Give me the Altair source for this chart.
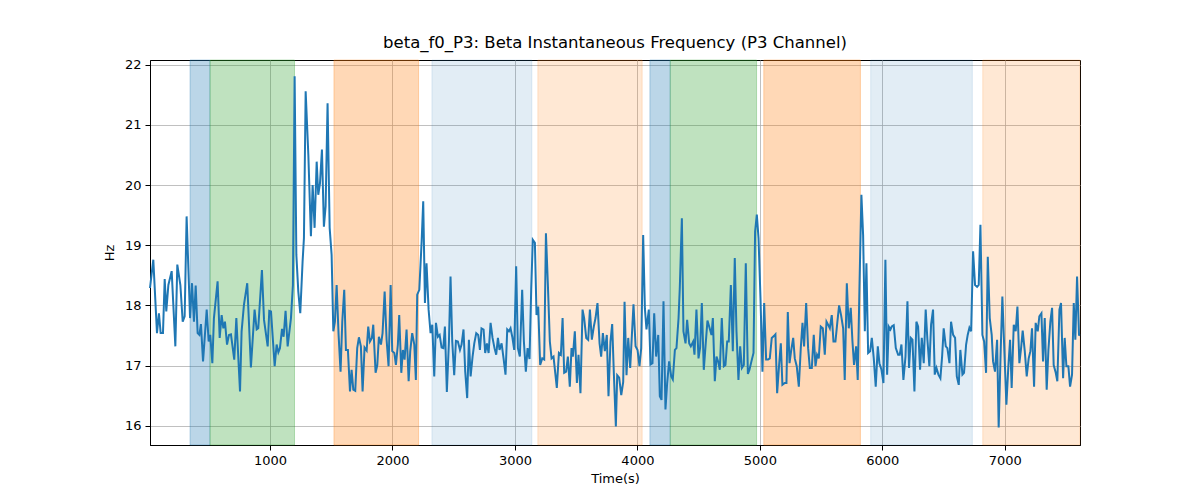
import pandas as pd
import altair as alt

# Beta instantaneous frequency trace
time_s = [
    20, 47, 77, 93, 107, 126, 140, 153, 170, 197,
    227, 243, 268, 287, 303, 319, 347, 363, 379, 393,
    409, 423, 436, 453, 483, 499, 512, 529, 542, 572,
    589, 605, 619, 632, 649, 665, 681, 708, 725, 755,
    768, 787, 814, 844, 874, 891, 904, 934, 951, 981,
    994, 1008, 1038, 1054, 1068, 1081, 1098, 1111, 1127, 1144,
    1171, 1187, 1201, 1215, 1231, 1247,
    1266, 1277, 1291, 1313, 1334, 1348, 1364, 1381, 1394, 1408,
    1424, 1440, 1454, 1470, 1487, 1503, 1517, 1530, 1544, 1560,
    1576, 1590, 1606, 1620, 1636, 1653, 1666, 1680, 1696, 1712,
    1726, 1742, 1756, 1772, 1789, 1802, 1816, 1832, 1843, 1862,
    1876, 1889, 1906, 1919, 1936, 1952, 1968, 1985, 1998, 2015,
    2028, 2044, 2055, 2072, 2085, 2099, 2115, 2132, 2145, 2161,
    2178, 2191, 2202, 2219, 2238, 2251, 2265, 2278, 2295, 2311,
    2325, 2341, 2355, 2371, 2385, 2401, 2415, 2428, 2444, 2461,
    2474, 2488, 2504, 2518, 2534, 2551, 2564,
    2580, 2594, 2610, 2624, 2638, 2654, 2668, 2684, 2700, 2714,
    2727, 2744, 2757, 2771, 2785, 2801, 2817, 2833, 2847, 2861,
    2874, 2891, 2907, 2923, 2937, 2951, 2964, 2978, 2994, 3010,
    3024, 3040, 3059, 3073, 3089, 3103, 3119, 3133, 3146, 3163,
    3176, 3190, 3206, 3223, 3239, 3253, 3269, 3285, 3299, 3315,
    3329, 3342, 3359, 3375, 3389, 3402, 3418, 3432, 3448, 3462,
    3473, 3489, 3506, 3519, 3535, 3552, 3565, 3582, 3598, 3612,
    3628, 3644, 3658, 3674, 3691, 3704, 3718, 3734, 3750, 3764,
    3780, 3794, 3808, 3824,
    3835, 3851, 3868, 3884, 3895, 3911, 3925, 3941, 3955, 3968,
    3985, 4001, 4017, 4031, 4047, 4061, 4074, 4093, 4107, 4123,
    4137, 4153, 4170, 4183, 4197, 4213, 4229, 4243, 4259, 4276,
    4289, 4306, 4319, 4336, 4346, 4363, 4376, 4393, 4406, 4423,
    4436, 4455, 4466, 4482, 4499, 4512, 4526, 4542, 4556, 4572,
    4586, 4605, 4616, 4632, 4646, 4659, 4673, 4689, 4706, 4719,
    4733, 4746, 4763, 4779, 4795, 4809, 4825, 4839, 4853, 4869,
    4885, 4902, 4915, 4931, 4948, 4961, 4975, 4989, 5005, 5021,
    5035, 5051, 5067, 5081, 5097, 5114, 5127, 5141,
    5157, 5171, 5184, 5203, 5217, 5228, 5242, 5255, 5272, 5285,
    5301, 5318, 5334, 5348, 5361, 5378, 5394, 5408, 5424, 5440,
    5454, 5467, 5481, 5497, 5514, 5530, 5544, 5557, 5571, 5587,
    5601, 5617, 5633, 5647, 5663, 5680, 5693, 5710, 5726, 5742,
    5756, 5769, 5786, 5799, 5813, 5829, 5843, 5857, 5870, 5884,
    5900, 5914, 5930, 5946, 5963, 5976, 5993, 6009, 6025, 6039,
    6052, 6066, 6077, 6093, 6110, 6129, 6142, 6156, 6172, 6189,
    6205, 6218, 6232, 6246, 6262, 6278, 6292, 6308, 6322, 6338,
    6354, 6368, 6384, 6398, 6414,
    6428, 6442, 6458, 6474, 6488, 6501, 6518, 6531, 6548, 6561,
    6578, 6594, 6608, 6624, 6637, 6654, 6667, 6684, 6697, 6711,
    6725, 6741, 6757, 6774, 6787, 6801, 6817, 6831, 6847, 6861,
    6877, 6893, 6904, 6920, 6937, 6950, 6967, 6980, 6997, 7013,
    7029, 7043, 7056, 7073, 7089, 7103, 7119, 7133, 7146, 7163,
    7179, 7195, 7209, 7222, 7239, 7252, 7269, 7282, 7299, 7312,
    7326, 7342, 7356, 7372, 7386, 7399, 7416, 7429, 7446, 7459,
    7476, 7489, 7503, 7519, 7533, 7549, 7563, 7576, 7590, 7606,
    7614,
]

beta_hz = [
    18.29, 18.76, 17.54, 17.87, 17.54, 17.54, 18.44, 17.90, 18.34, 18.57,
    17.32, 18.68, 18.34, 17.73, 17.82, 19.48, 17.79, 18.37, 17.73, 18.33,
    17.54, 17.51, 17.69, 17.07, 17.93, 17.40, 17.51, 17.04, 17.79, 18.40,
    17.46, 17.84, 17.62, 17.73, 17.35, 17.51, 17.52, 17.10, 17.79, 16.57,
    17.57, 18.01, 18.37, 16.97, 17.93, 17.60, 17.62, 18.59, 17.76, 17.32,
    17.91, 17.90, 16.99, 17.35, 17.22, 17.29, 17.61, 17.48, 17.91, 17.32,
    17.79, 18.34, 21.81, 18.84, 18.23, 17.87,
    18.73, 19.12, 21.56, 20.50, 19.15, 20.00, 19.29, 20.39, 19.84, 20.03,
    20.59, 19.31, 19.65, 21.36, 19.29, 18.84, 17.57, 17.73, 18.34, 17.51,
    16.90, 17.73, 18.26, 17.26, 17.26, 16.57, 16.93, 16.60, 16.58, 17.29,
    17.47, 17.32, 16.57, 17.30, 17.25, 17.65, 17.40, 17.46, 17.68, 16.88,
    17.01, 17.48, 17.35, 17.54, 18.23, 17.43, 16.99, 18.34, 17.24, 17.21,
    17.01, 17.35, 17.84, 16.88, 17.26, 17.10, 17.60, 16.74, 17.24, 17.54,
    17.35, 16.76, 18.18, 18.26, 19.06, 19.73, 18.04, 18.70, 17.93, 17.54,
    17.68, 16.82, 17.71, 17.48, 17.51, 17.30, 17.29, 17.65, 16.56, 17.40,
    18.48, 17.40, 16.84, 17.41, 17.40, 17.26, 17.35,
    17.60, 16.90, 16.46, 17.43, 16.82, 17.15, 17.37, 17.54, 17.51, 17.26,
    17.62, 17.60, 17.21, 17.37, 17.21, 17.71, 17.46, 17.29, 17.18, 17.46,
    17.26, 17.37, 17.12, 16.85, 17.60, 17.57, 17.62, 17.48, 17.26, 18.65,
    17.29, 17.15, 18.26, 17.40, 16.90, 17.29, 17.11, 18.29, 19.09, 19.04,
    17.84, 17.98, 17.01, 17.12, 17.10, 19.20, 18.34, 17.40, 17.12, 17.15,
    16.88, 16.63, 17.21, 17.18, 17.79, 16.88, 16.90, 17.15, 16.65, 17.29,
    17.15, 17.57, 16.71, 17.18, 16.54, 17.93, 17.79, 17.46, 17.43, 17.93,
    17.43, 17.65, 17.79, 18.04, 17.37, 17.15, 17.54, 17.24, 17.51, 16.49,
    17.40, 17.69, 16.85, 15.99,
    16.84, 16.80, 16.51, 16.73, 18.06, 16.84, 17.46, 16.96, 17.51, 18.02,
    17.32, 17.26, 16.99, 17.29, 19.17, 17.95, 17.60, 17.93, 17.02, 17.04,
    17.87, 17.15, 17.51, 16.49, 16.43, 18.07, 16.27, 16.71, 17.07, 16.82,
    16.77, 17.26, 17.29, 17.79, 18.29, 19.45, 17.57, 17.37, 17.76, 17.37,
    17.32, 17.40, 17.18, 17.93, 17.12, 17.30, 18.04, 16.93, 17.32, 17.75,
    17.65, 17.51, 17.79, 16.74, 17.15, 17.07, 16.93, 17.79, 16.99, 17.01,
    17.40, 17.40, 18.34, 17.24, 18.79, 17.57, 16.76, 17.32, 16.96, 17.01,
    18.70, 16.86, 16.93, 17.07, 17.21, 19.23, 19.51, 19.12, 18.12, 16.90,
    18.04, 17.10, 17.10, 17.12, 17.46, 17.49, 17.52, 16.54,
    17.01, 17.37, 16.68, 16.71, 16.71, 17.89, 17.04, 17.24, 17.46, 17.12,
    16.99, 16.65, 17.29, 17.71, 17.32, 18.04, 17.29, 16.96, 16.96, 17.51,
    16.99, 17.18, 17.12, 17.65, 17.62, 17.18, 17.73, 17.68, 17.62, 17.84,
    17.40, 17.40, 17.73, 18.00, 17.84, 17.62, 16.76, 18.37, 17.62, 17.96,
    17.40, 17.01, 17.32, 16.76, 18.29, 19.84, 19.17, 17.57, 18.70, 17.21,
    17.24, 17.46, 17.12, 16.65, 17.32, 17.04, 16.93, 16.71, 18.76, 16.85,
    17.65, 17.60, 17.65, 17.67, 17.29, 17.18, 17.18, 17.35, 16.76, 17.15,
    18.07, 16.96, 17.46, 17.43, 16.57, 17.73, 17.65, 16.93, 17.46, 17.04,
    17.93, 17.43, 16.99, 17.68, 17.93,
    16.85, 16.96, 16.85, 16.79, 17.15, 17.62, 17.32, 17.29, 17.04, 17.73,
    17.51, 17.46, 16.82, 16.68, 17.26, 16.85, 16.88, 17.35, 17.51, 17.63,
    17.57, 18.90, 18.34, 18.31, 18.34, 19.34, 17.51, 17.40, 16.88, 18.81,
    17.79, 17.51, 17.07, 16.90, 17.43, 15.97, 17.29, 18.15, 17.21, 16.35,
    16.99, 17.43, 16.63, 17.68, 17.57, 17.98, 17.04, 17.29, 17.58, 17.24,
    16.82, 17.12, 17.24, 17.62, 16.65, 17.71, 17.57, 17.82, 17.87, 17.07,
    17.79, 16.60, 17.26, 17.73, 17.96, 17.01, 16.88, 16.74, 17.93, 18.04,
    16.79, 17.46, 16.99, 16.99, 16.65, 16.85, 18.04, 17.43, 18.48, 17.51,
    17.50,
]

# Shaded intervals
span_start = [347, 510, 1522, 2322, 3187, 4102, 4268, 5032, 5905, 6820]
span_end = [510, 1200, 2213, 3138, 4039, 4268, 4973, 5821, 6735, 7614]
span_kind = ["blue", "green", "orange", "pale blue", "pale orange",
             "blue", "green", "orange", "pale blue", "pale orange"]

assert len(time_s) == len(beta_hz)

df = pd.DataFrame({'time': time_s, 'hz': beta_hz})
spans = pd.DataFrame({'start': span_start, 'end': span_end, 'kind': span_kind})

kinds = ["blue", "green", "orange", "pale blue", "pale orange"]
kind_colors = ["#1f77b4", "#2ca02c", "#ff7f0e", "#1f77b4", "#ff7f0e"]
kind_alpha = [0.3, 0.3, 0.3, 0.13, 0.18]

x_scale = alt.Scale(domain=[20, 7614], nice=False, zero=False)
y_scale = alt.Scale(domain=[15.68, 22.08], nice=False, zero=False)

color_scale = alt.Scale(domain=kinds, range=kind_colors)
alpha_scale = alt.Scale(type='ordinal', domain=kinds, range=kind_alpha)

bands = alt.Chart(spans).mark_rect(strokeWidth=1).encode(
    x=alt.X('start:Q', scale=x_scale,
            axis=alt.Axis(values=[1000, 2000, 3000, 4000, 5000, 6000, 7000],
                          format='d', title='Time(s)')),
    x2='end:Q',
    fill=alt.Fill('kind:N', scale=color_scale, legend=None),
    stroke=alt.Stroke('kind:N', scale=color_scale, legend=None),
    fillOpacity=alt.FillOpacity('kind:O', scale=alpha_scale, legend=None),
    strokeOpacity=alt.StrokeOpacity('kind:O', scale=alpha_scale, legend=None),
)

line = alt.Chart(df).mark_line(color='#1f77b4', strokeWidth=2).encode(
    x=alt.X('time:Q', scale=x_scale),
    y=alt.Y('hz:Q', scale=y_scale,
            axis=alt.Axis(values=[16, 17, 18, 19, 20, 21, 22], title='Hz')),
)

chart = alt.layer(bands, line).properties(
    width=930,
    height=385,
    title=alt.TitleParams(
        'beta_f0_P3: Beta Instantaneous Frequency (P3 Channel)',
        font='DejaVu Sans', fontSize=16.5, fontWeight='normal',
        color='black', anchor='middle', frame='group', offset=7
    ),
    autosize=alt.AutoSizeParams(type='none'),
    padding={'left': 142, 'top': 52, 'right': 112, 'bottom': 47},
).configure_view(
    stroke='black', strokeWidth=1
).configure_axis(
    labelFont='DejaVu Sans', labelFontSize=13, labelColor='black',
    titleFont='DejaVu Sans', titleFontSize=13, titleFontWeight='normal',
    titleColor='black',
    tickColor='black', tickSize=5, tickWidth=1,
    domainColor='black', domainWidth=1,
    gridColor='#b0b0b0', gridWidth=0.8,
    labelPadding=4,
).configure_axisX(
    titlePadding=5
).configure_axisY(
    titlePadding=8
)

chart.save("out.html", embed_options={"renderer": "svg", "actions": False})
